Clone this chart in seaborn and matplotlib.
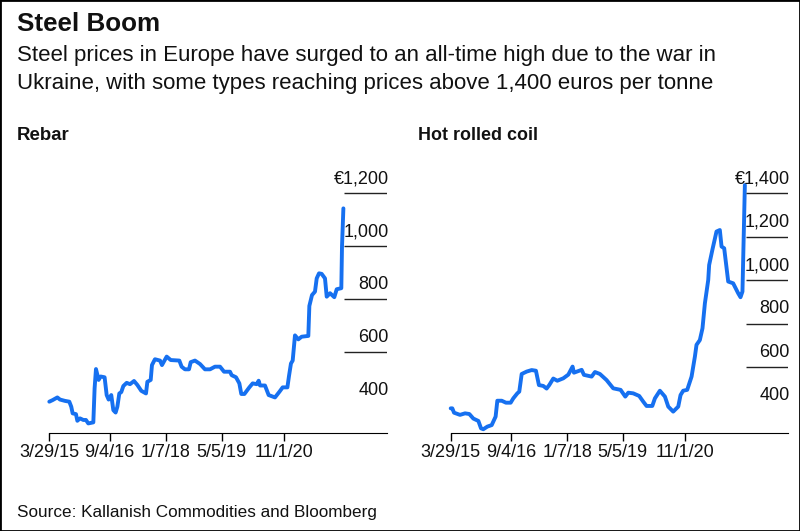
import pandas as pd
import seaborn as sns
import matplotlib
matplotlib.use("Agg")
import matplotlib.pyplot as plt
from matplotlib.patches import Rectangle

# values, x is days after the first date
start_date = "2015-03-29"
tick_dates = ["2015-03-29", "2016-09-04", "2018-01-07", "2019-05-05", "2020-11-01"]
tick_labels = ["3/29/15", "9/4/16", "1/7/18", "5/5/19", "11/1/20"]

rebar_days = [0, 29, 70, 93, 136, 174, 191, 203, 232, 244, 267, 296, 319, 339, 383, 394, 406, 429, 446, 481,
              499, 516, 539, 557, 577, 592, 609, 626, 644, 673, 702, 737, 766, 800, 841, 853, 882, 893, 919, 963,
              980, 1021, 1056, 1131, 1151, 1180, 1215, 1230, 1267, 1311, 1354, 1398, 1441, 1485, 1520, 1572, 1586,
              1624, 1653, 1670, 1697, 1740, 1769, 1804, 1821, 1833, 1876, 1908, 1963, 2001, 2030, 2071, 2085, 2102,
              2117, 2137, 2166, 2195, 2253, 2262, 2285, 2311, 2326, 2346, 2369, 2398, 2413, 2442, 2479, 2500, 2540,
              2546, 2558]
rebar_values = [414, 420, 430, 422, 417, 414, 395, 370, 367, 342, 351, 345, 345, 332, 336, 464, 537, 496, 509, 506,
                439, 422, 439, 382, 373, 395, 445, 450, 473, 485, 480, 492, 477, 455, 445, 489, 496, 552, 574, 569,
                552, 584, 571, 569, 546, 536, 536, 563, 569, 556, 536, 536, 546, 546, 527, 527, 514,
                506, 483, 443, 443, 468, 483, 480, 493, 475, 475, 439, 430, 451, 468, 468, 511, 558,
                569, 664, 649, 659, 662, 775, 816, 829, 879, 898, 896, 879, 810, 823, 808, 838, 842,
                999, 1143]

coil_days = [0, 14, 29, 81, 125, 162, 197, 241, 264, 284, 319, 357, 391, 406, 444, 481, 522, 545, 580, 597,
             618, 661, 705, 742, 768, 806, 835, 858, 893, 928, 980, 1024, 1061, 1073, 1140, 1160, 1227, 1256,
             1299, 1357, 1415, 1479, 1520, 1546, 1589, 1641, 1676, 1705, 1755, 1778, 1821, 1865, 1894, 1937,
             1981, 2001, 2024, 2059, 2097, 2126, 2140, 2169, 2192, 2213, 2242, 2250, 2279, 2314, 2343, 2358,
             2381, 2416, 2459, 2503, 2523, 2540, 2561]
coil_values = [411, 411, 391, 381, 388, 385, 364, 353, 319, 315, 327, 334, 373, 446, 446, 437, 437, 457, 480, 488,
               569, 580, 587, 584, 518, 514, 502, 518, 548, 538, 549, 566, 603, 575, 588, 565, 557, 578,
               569, 541, 503, 496, 465, 483, 480, 468, 442, 422, 422, 457, 492, 465, 419, 396,
               419, 472, 492, 496, 557, 649, 703, 725, 779, 894, 1001, 1070, 1142, 1224, 1231, 1155,
               1147, 994, 986, 940, 922, 948, 1438]

rebar_ticks = [400, 600, 800, 1000, 1200]
rebar_labels = ["400", "600", "800", "1,000", "€1,200"]
coil_ticks = [400, 600, 800, 1000, 1200, 1400]
coil_labels = ["400", "600", "800", "1,000", "1,200", "€1,400"]

BLUE = "#1670f0"
W, H = 800, 531


def make_frame(days, values):
    dates = pd.Timestamp(start_date) + pd.to_timedelta(days, unit="D")
    return pd.DataFrame({"date": dates, "price": values})


def draw_panel(ax, df, ticks, labels, ymin, ymax, grid_start):
    sns.lineplot(data=df, x="date", y="price", ax=ax, color=BLUE, lw=2.8, errorbar=None,
                 solid_joinstyle="round", clip_on=False)
    ax.set_xlim(pd.Timestamp(start_date), pd.Timestamp(start_date) + pd.Timedelta(days=2940))
    ax.set_ylim(ymin, ymax)
    ax.set_xticks(pd.to_datetime(tick_dates))
    ax.set_xticklabels(tick_labels)
    ax.set_xlabel("")
    ax.set_ylabel("")
    ax.set_yticks([])
    ax.tick_params(axis="x", length=5.5, width=1, color="black", labelsize=13, labelcolor="#111111", pad=2.5,
                   bottom=True)
    sns.despine(ax=ax, left=True)
    ax.spines["bottom"].set_linewidth(0.8)
    ax.spines["bottom"].set_color("black")
    for t, lab in zip(ticks, labels):
        # 400 has a label but no rule in the original
        if t != 400:
            ax.hlines(t, grid_start, 1, transform=ax.get_yaxis_transform(), color="#222222", lw=1)
        ax.annotate(lab, (1, t), xycoords=ax.get_yaxis_transform(), xytext=(1, 4.5), textcoords="offset points",
                    ha="right", va="bottom", fontsize=13, color="#111111")


sns.set_style("white")
plt.rcParams["font.family"] = ["Liberation Sans", "DejaVu Sans"]

fig = plt.figure(figsize=(W / 100, H / 100), dpi=100, facecolor="white")

ax1 = fig.add_axes([49.3 / W, 1 - 432.7 / H, 338 / W, 252.7 / H])
draw_panel(ax1, make_frame(rebar_days, rebar_values), rebar_ticks, rebar_labels, 297, 1250, 0.873)

ax2 = fig.add_axes([450.7 / W, 1 - 432.7 / H, 337.7 / W, 252.7 / H])
draw_panel(ax2, make_frame(coil_days, coil_values), coil_ticks, coil_labels, 299, 1461, 0.874)

fig.text(17 / W, 1 - 24 / H, "Steel Boom", fontsize=18.7, fontweight="bold", va="center", color="#111111")
fig.text(17 / W, 1 - 56 / H, "Steel prices in Europe have surged to an all-time high due to the war in",
         fontsize=16.05, va="center", color="#111111")
fig.text(17 / W, 1 - 83 / H, "Ukraine, with some types reaching prices above 1,400 euros per tonne",
         fontsize=16.05, va="center", color="#111111")
fig.text(17 / W, 1 - 136 / H, "Rebar", fontsize=13.4, fontweight="bold", va="center", color="#111111")
fig.text(418 / W, 1 - 136 / H, "Hot rolled coil", fontsize=12.9, fontweight="bold", va="center", color="#111111")
fig.text(17 / W, 1 - 513 / H, "Source: Kallanish Commodities and Bloomberg", fontsize=12.3, va="center",
         color="#111111")

# thin black frame around the whole picture
fig.add_artist(Rectangle((0, 0), 1, 1, transform=fig.transFigure, fill=False, edgecolor="black", lw=2))

fig.savefig("out.png", dpi=100)
